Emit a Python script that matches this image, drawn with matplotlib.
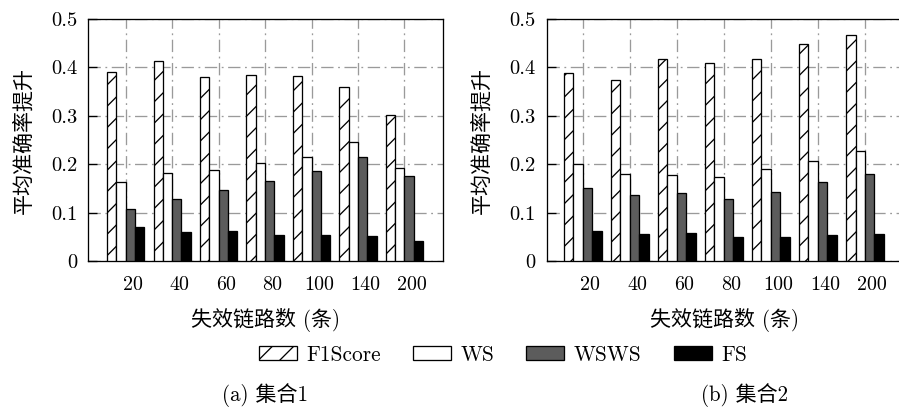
import matplotlib
matplotlib.use("Agg")
import matplotlib.pyplot as plt
import numpy as np

DPI = 128


def P(px):
    """pixels -> points at the figure dpi"""
    return px * 72.0 / DPI


plt.rcParams['font.family'] = ['cmr10', 'Noto Sans CJK SC', 'DejaVu Sans']
plt.rcParams['axes.formatter.use_mathtext'] = True
plt.rcParams['hatch.linewidth'] = P(1.3)
plt.rcParams['font.size'] = P(20)

categories = ['20', '40', '60', '80', '100', '140', '200']
series_names = ['F1Score', 'WS', 'WSWS', 'FS']

set1_f1 = [0.391, 0.414, 0.380, 0.385, 0.383, 0.359, 0.301]
set1_ws = [0.163, 0.181, 0.187, 0.202, 0.214, 0.246, 0.192]
set1_wsws = [0.108, 0.128, 0.146, 0.166, 0.185, 0.214, 0.176]
set1_fs = [0.070, 0.059, 0.061, 0.054, 0.054, 0.051, 0.041]

set2_f1 = [0.389, 0.374, 0.417, 0.410, 0.417, 0.449, 0.466]
set2_ws = [0.201, 0.179, 0.177, 0.174, 0.190, 0.206, 0.228]
set2_wsws = [0.150, 0.136, 0.141, 0.128, 0.143, 0.163, 0.180]
set2_fs = [0.061, 0.055, 0.057, 0.050, 0.049, 0.054, 0.055]

yticks = [0, 0.1, 0.2, 0.3, 0.4, 0.5]
ytick_labels = ['0', '0.1', '0.2', '0.3', '0.4', '0.5']
ylabel = '平均准确率提升'
xlabel = '失效链路数 (条)'
captions = ['(a) 集合1', '(b) 集合2']

styles = [
    dict(facecolor='white', hatch='//'),
    dict(facecolor='white'),
    dict(facecolor='#5c5c5c'),
    dict(facecolor='black'),
]

fig = plt.figure(figsize=(899 / DPI, 407 / DPI), dpi=DPI)
ax1 = fig.add_axes([88 / 899, 1 - 261 / 407, 355 / 899, 242 / 407])
ax2 = fig.add_axes([547 / 899, 1 - 261 / 407, 356 / 899, 242 / 407])

x = np.arange(len(categories))
w = 0.2
grid_lw = P(1.3)
grid_ls = (0, (9.5, 3.5, 1.4, 3.5))
handles = []
for ax, data, xl in [(ax1, [set1_f1, set1_ws, set1_wsws, set1_fs], (-0.81, 6.83)),
                     (ax2, [set2_f1, set2_ws, set2_wsws, set2_fs], (-0.76, 6.81))]:
    ax.set_axisbelow(True)
    hs = []
    for i, (vals, st) in enumerate(zip(data, styles)):
        b = ax.bar(x + (i - 1.5) * w, vals, w, edgecolor='black', linewidth=P(1.3),
                   label=series_names[i], zorder=3, **st)
        hs.append(b)
    handles = hs
    ax.set_xlim(*xl)
    ax.set_ylim(0, 0.5)
    ax.set_yticks(yticks)
    ax.set_yticklabels(ytick_labels, fontsize=P(20.5))
    # labels sit slightly right of the group centres, grid on the centres
    ax.set_xticks(x + 0.157)
    ax.set_xticklabels(categories, fontsize=P(20))
    ax.set_xticks(x, minor=True)
    ax.tick_params(axis='x', which='both', length=0, pad=P(15))
    ax.tick_params(axis='y', direction='in', length=P(9), width=P(1.3), pad=P(11))
    ax.grid(True, axis='x', which='minor', color='#9a9a9a', linestyle=grid_ls,
            linewidth=grid_lw, zorder=0)
    ax.grid(True, axis='y', which='major', color='#9a9a9a', linestyle=grid_ls,
            linewidth=grid_lw, zorder=0)
    ax.grid(False, axis='x', which='major')
    for s in ax.spines.values():
        s.set_linewidth(P(1.3))
        s.set_color('black')
    ax.set_ylabel(ylabel, fontsize=P(21), va='center')
    ax.yaxis.set_label_coords(-0.183, 0.5)
    ax.set_xlabel(xlabel, fontsize=P(21), va='center')
    ax.xaxis.set_label_coords(0.5, -59 / 242)

fig.legend(handles, series_names, loc='center', bbox_to_anchor=(503 / 899, 1 - 355 / 407),
           ncol=4, frameon=False, handlelength=1.78, handleheight=0.61,
           columnspacing=1.5, handletextpad=0.45, fontsize=P(21.3),
           borderpad=0, borderaxespad=0)

fig.text(265 / 899, 1 - 395 / 407, captions[0], ha='center', va='center', fontsize=P(21))
fig.text(745 / 899, 1 - 395 / 407, captions[1], ha='center', va='center', fontsize=P(21))

fig.savefig('out.png', dpi=DPI)
